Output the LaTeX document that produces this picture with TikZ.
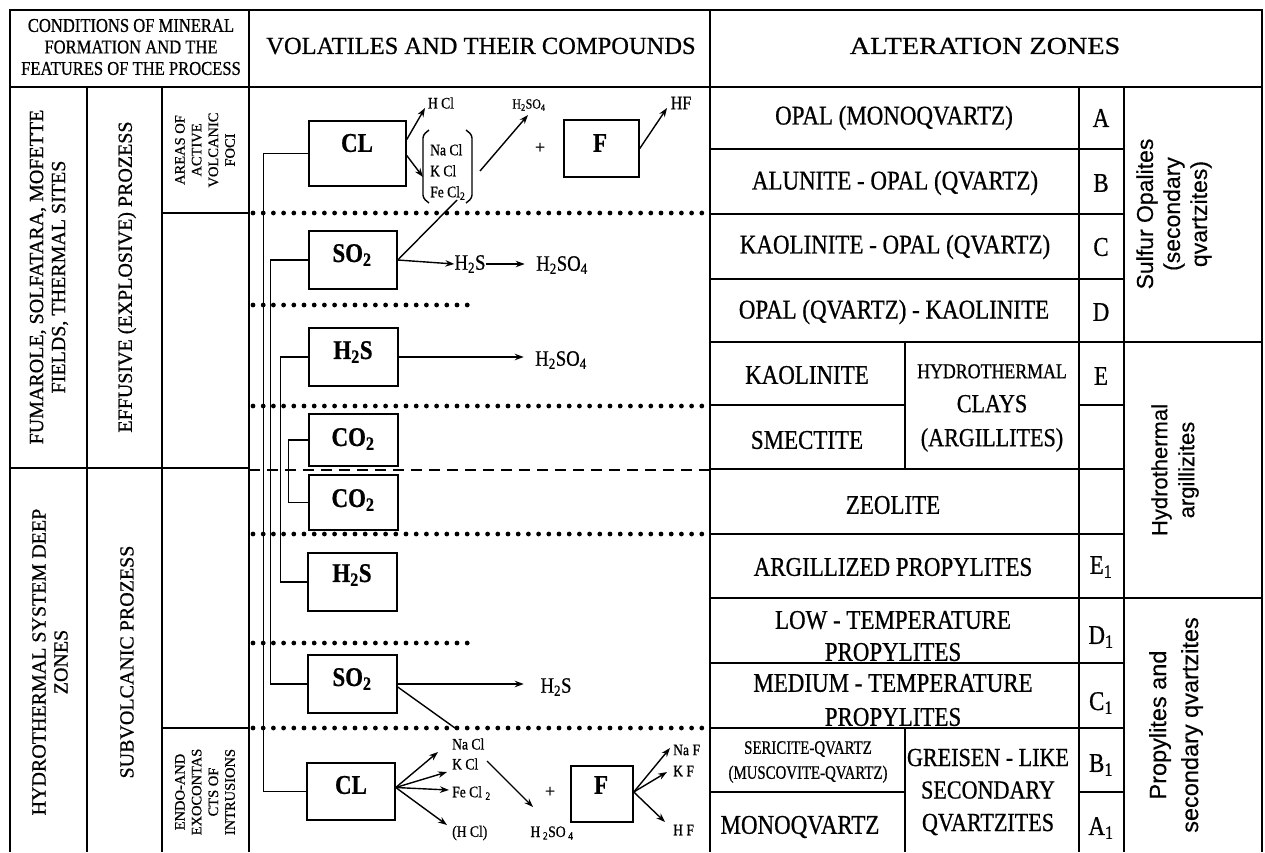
\documentclass[tikz,border=0pt]{standalone}
\usepackage{fontspec}
\usepackage{graphicx}
\setmainfont{Liberation Serif}[FakeBold=0.7]
\newfontfamily\cnd{Liberation Serif}[FakeStretch=0.85,FakeBold=0.7]
\newfontfamily\sns{Liberation Sans}[FakeBold=0.4]
\usetikzlibrary{arrows.meta}
\begin{document}
\begin{tikzpicture}[x=1pt,y=-1pt,
  tbl/.style={line width=1.3pt},
  gbox/.style={draw,line width=1.5pt,inner sep=0pt},
  glab/.style={font=\cnd\bfseries\fontsize{27}{27}\selectfont,inner sep=0pt},
  zone/.style={font=\cnd\fontsize{27}{33}\selectfont,align=center,inner sep=0pt},
  sm/.style={font=\cnd\fontsize{16}{21}\selectfont,inner sep=0pt,align=left},
  md/.style={font=\cnd\fontsize{22}{22}\selectfont,inner sep=0pt},
  arr/.style={line width=1.4pt,-{Stealth[length=9pt,width=6.5pt]}},
  ln/.style={line width=1.4pt},
  dotl/.style={line width=4.8pt,line cap=round,dash pattern=on 0pt off 10.2pt},
  dashl/.style={line width=2.5pt,dash pattern=on 11pt off 7pt},
  grp/.style={font=\sns\fontsize{23}{27}\selectfont,align=center,rotate=90,inner sep=0pt},
  side/.style={font=\fontsize{20}{22}\selectfont,align=center,rotate=90,inner sep=0pt},
  tinyl/.style={font=\fontsize{14.5}{16.7}\selectfont,align=center,rotate=90,inner sep=0pt}
]
\useasboundingbox (0,0) rectangle (1265,852);
% ---------- table frame ----------
\draw[tbl] (10,852) -- (10,10) -- (1262,10) -- (1262,852);
\draw[tbl] (10,87) -- (1262,87);
\draw[tbl] (249,10) -- (249,852);
\draw[tbl] (710,10) -- (710,852);
\draw[tbl] (87,87) -- (87,852);
\draw[tbl] (162,87) -- (162,852);
\draw[tbl] (10,468) -- (249,468);
\draw[tbl] (162,213) -- (249,213);
\draw[tbl] (162,728) -- (249,728);
\draw[tbl] (1079,87) -- (1079,852);
\draw[tbl] (1124,87) -- (1124,852);
\draw[tbl] (905,342) -- (905,469);
\draw[tbl] (905,728) -- (905,852);
\foreach \yy in {149,214,279,469,534,663,728} \draw[tbl] (710,\yy) -- (1124,\yy);
\draw[tbl] (710,342) -- (1262,342);
\draw[tbl] (710,598) -- (1262,598);
\draw[tbl] (710,405) -- (905,405);
\draw[tbl] (1079,405) -- (1124,405);
\draw[tbl] (710,792) -- (905,792);
\draw[tbl] (1079,792) -- (1124,792);
% ---------- dotted / dashed separators ----------
\draw[dotl] (253,213) -- (708,213);
\draw[dotl] (253,305) -- (477,305);
\draw[dotl] (253,406) -- (708,406);
\draw[dotl] (253,534) -- (708,534);
\draw[dotl] (253,643) -- (477,643);
\draw[dotl] (253,728) -- (708,728);
\draw[dashl] (249,470) -- (710,470);
% ---------- headers ----------
\node[font=\cnd\fontsize{19.5}{21.5}\selectfont,align=center,inner sep=0pt] (hd1) at (131,47) {CONDITIONS OF MINERAL\\FORMATION AND THE\\FEATURES OF THE PROCESS};
\node[font=\fontsize{24.5}{25}\selectfont,inner sep=0pt] (hd2) at (481,46) {VOLATILES AND THEIR COMPOUNDS};
\node[font=\fontsize{24.5}{25}\selectfont,inner sep=0pt] (hd3) at (985,46) {\scalebox{1.15}[1]{ALTERATION ZONES}};
% ---------- left columns ----------
\node[side] (c1a) at (49,277) {FUMAROLE, SOLFATARA, MOFETTE\\FIELDS, THERMAL SITES};
\node[side] (c1b) at (50,662) {HYDROTHERMAL SYSTEM DEEP\\ZONES};
\node[side] (c2a) at (127,277) {EFFUSIVE (EXPLOSIVE) PROZESS};
\node[side] (c2b) at (127,662) {SUBVOLCANIC PROZESS};
\node[tinyl] (c3a) at (205,150) {AREAS OF\\ACTIVE\\VOLCANIC\\FOCI};
\node[tinyl] (c3b) at (205,792) {ENDO-AND\\EXOCONTAS\\CTS OF\\INTRUSIONS};
% ---------- gas boxes ----------
\node[gbox,minimum width=97pt,minimum height=65pt] (cl1) at (357.5,153.5) {};
\node[gbox,minimum width=75pt,minimum height=57pt] (f1) at (601.5,148.5) {};
\node[gbox,minimum width=88pt,minimum height=58pt] (so2a) at (353,260) {};
\node[gbox,minimum width=89pt,minimum height=58pt] (h2sa) at (353.5,357) {};
\node[gbox,minimum width=89pt,minimum height=52pt] (co2a) at (353.5,440) {};
\node[gbox,minimum width=89pt,minimum height=55pt] (co2b) at (353.5,502.5) {};
\node[gbox,minimum width=89pt,minimum height=58pt] (h2sb) at (352.5,582) {};
\node[gbox,minimum width=89pt,minimum height=58pt] (so2b) at (352.5,684) {};
\node[gbox,minimum width=88pt,minimum height=57pt] (cl2) at (351,791.5) {};
\node[gbox,minimum width=62pt,minimum height=56pt] (f2) at (602,794) {};
\node[glab] (lcl1) at (357,143) {CL};
\node[glab] (lf1) at (600,143) {F};
\node[glab] (lso2a) at (352,255) {SO\textsubscript{2}};
\node[glab] (lh2sa) at (353,352) {H\textsubscript{2}S};
\node[glab] (lco2a) at (353,439) {CO\textsubscript{2}};
\node[glab] (lco2b) at (353,500) {CO\textsubscript{2}};
\node[glab] (lh2sb) at (352,575) {H\textsubscript{2}S};
\node[glab] (lso2b) at (352,679) {SO\textsubscript{2}};
\node[glab] (lcl2) at (351,785) {CL};
\node[glab] (lf2) at (601,785) {F};
% ---------- trunk connectors ----------
\draw[ln] (cl1.west) -- ++(-45,0) |- (cl2.west);
\draw[ln] (so2a.west) -- ++(-38,0) |- (so2b.west);
\draw[ln] (h2sa.west) -- ++(-28,0) |- (h2sb.west);
\draw[ln] (co2a.west) -- ++(-20,0) |- (co2b.west);
% ---------- upper reactions ----------
\node[sm] (thcl) at (441,103) {H Cl};
\coordinate (ehcl) at (425,108);
\draw[arr] ([yshift=14pt]cl1.east) -- (ehcl);
\node[sm,anchor=west] (brk) at (430,172) {Na Cl\\K Cl\\Fe Cl\textsubscript{2}};
\coordinate (ebrk) at (423,177);
\draw[arr] ([yshift=-2pt]cl1.east) -- (ebrk);
\draw[ln,rounded corners=3pt] (429,130) -- (423,135) -- (423,198) -- (429,203);
\draw[ln,rounded corners=3pt] (466,130) -- (472,135) -- (472,198) -- (466,203);
\coordinate (sbrk) at (480,171);
\coordinate (ehso) at (528,115);
\draw[arr] (sbrk) -- (ehso);
\node[font=\cnd\fontsize{14}{14}\selectfont,inner sep=0pt] (thso) at (529,105) {H\textsubscript{2}SO\textsubscript{4}};
\node[font=\fontsize{18}{18}\selectfont,inner sep=0pt] (plus1) at (540,148) {+};
\coordinate (ehf) at (667,108);
\draw[arr] (f1.east) -- (ehf);
\node[font=\cnd\fontsize{19}{19}\selectfont,inner sep=0pt] (thf) at (681,103) {HF};
\coordinate (fecl) at (457,200);
\draw[ln] (so2a.east) -- (fecl);
\node[md] (th2s1) at (470,264) {H\textsubscript{2}S};
\draw[arr] (so2a.east) -- (th2s1.west);
\node[md] (thso2) at (562,265) {H\textsubscript{2}SO\textsubscript{4}};
\draw[arr] (th2s1.east) -- ++(39,0);
\node[md] (thso3) at (561,360) {H\textsubscript{2}SO\textsubscript{4}};
\draw[arr] (h2sa.east) -- ++(125,0);
% ---------- lower reactions ----------
\node[md] (th2s2) at (556,687) {H\textsubscript{2}S};
\draw[arr] (so2b.east) -- ++(126,0);
\coordinate (nacl2) at (455,728);
\draw[ln] ([yshift=-3pt]so2b.east) -- (nacl2);
\node[sm,anchor=west] (tnacl) at (452,744) {Na Cl};
\node[sm,anchor=west] (tkcl) at (452,764) {K Cl};
\node[sm,anchor=west] (tfecl) at (452,793) {Fe Cl \textsubscript{2}};
\node[sm,anchor=west] (thcl2) at (452,833) {(H Cl)};
\coordinate (e1) at (438,752);
\coordinate (e2) at (447,772);
\coordinate (e3) at (449,790);
\coordinate (e4) at (447,825);
\draw[arr] ([yshift=4pt]cl2.east) -- (e1);
\draw[arr] ([yshift=4pt]cl2.east) -- (e2);
\draw[arr] ([yshift=4pt]cl2.east) -- (e3);
\draw[arr] ([yshift=4pt]cl2.east) -- (e4);
\coordinate (s5) at (487,761);
\coordinate (e5) at (533,807);
\draw[arr] (s5) -- (e5);
\node[sm] (thso4) at (552,833) {H\,\textsubscript{2}SO\,\textsubscript{4}};
\node[font=\fontsize{18}{18}\selectfont,inner sep=0pt] (plus2) at (550,792) {+};
\coordinate (f6) at (670,748);
\coordinate (f7) at (667,772);
\coordinate (f8) at (665,822);
\draw[arr] ([yshift=2pt]f2.east) -- (f6);
\draw[arr] ([yshift=2pt]f2.east) -- (f7);
\draw[arr] ([yshift=2pt]f2.east) -- (f8);
\node[sm,anchor=west] (tnaf) at (673,750) {Na F};
\node[sm,anchor=west] (tkf) at (673,771) {K F};
\node[sm,anchor=west] (thf2) at (673,830) {H F};
% ---------- alteration zones ----------
\node[zone] (z1) at (894,118) {OPAL (MONOQVARTZ)};
\node[zone] (z2) at (895,183) {ALUNITE - OPAL (QVARTZ)};
\node[zone] (z3) at (895,247) {KAOLINITE - OPAL (QVARTZ)};
\node[zone] (z4) at (894,312) {OPAL (QVARTZ) - KAOLINITE};
\node[zone] (z5) at (807,375) {KAOLINITE};
\node[zone] (z6) at (807,440) {SMECTITE};
\node[zone,font=\cnd\fontsize{26}{34}\selectfont] (z7) at (992,408) {{\fontsize{21}{34}\selectfont HYDROTHERMAL}\\CLAYS\\(ARGILLITES)};
\node[zone] (z8) at (893,505) {ZEOLITE};
\node[zone] (z9) at (893,567) {ARGILLIZED PROPYLITES};
\node[zone,font=\cnd\fontsize{27}{32}\selectfont] (z10) at (893,636) {LOW - TEMPERATURE\\PROPYLITES};
\node[zone,font=\cnd\fontsize{27}{34}\selectfont] (z11) at (893,700) {MEDIUM - TEMPERATURE\\PROPYLITES};
\node[zone,font=\cnd\fontsize{19}{25}\selectfont] (z12) at (808,762) {\scalebox{0.92}[1]{SERICITE-QVARTZ}\\\scalebox{0.92}[1]{(MUSCOVITE-QVARTZ)}};
\node[zone,font=\cnd\fontsize{26}{32.5}\selectfont] (z13) at (988,792) {GREISEN - LIKE\\SECONDARY\\QVARTZITES};
\node[zone] (z14) at (800,827) {MONOQVARTZ};
% letters
\node[zone] (la) at (1101,118) {A};
\node[zone] (lb) at (1101,183) {B};
\node[zone] (lc) at (1101,247) {C};
\node[zone] (ld) at (1101,312) {D};
\node[zone] (le) at (1101,376) {E};
\node[zone] (le1) at (1101,567) {E\textsubscript{1}};
\node[zone] (ld1) at (1101,637) {D\textsubscript{1}};
\node[zone] (lc1) at (1101,703) {C\textsubscript{1}};
\node[zone] (lb1) at (1101,765) {B\textsubscript{1}};
\node[zone] (la1) at (1101,828) {A\textsubscript{1}};
% group labels
\node[grp] (g1) at (1174,214) {Sulfur Opalites\\(secondary\\qvartzites)};
\node[grp,font=\sns\fontsize{22}{27}\selectfont] (g2) at (1175,470) {Hydrothermal\\argillizites};
\node[grp,font=\sns\fontsize{23.5}{32}\selectfont] (g3) at (1176,725) {Propylites and\\secondary qvartzites};
\end{tikzpicture}
\end{document}
